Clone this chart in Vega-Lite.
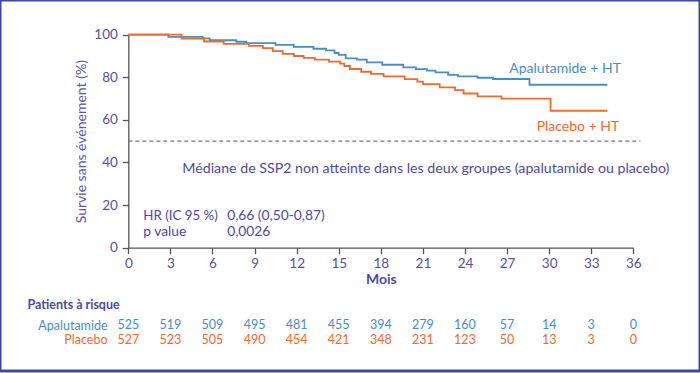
{
  "$schema": "https://vega.github.io/schema/vega-lite/v6.json",
  "width": 700,
  "height": 371,
  "autosize": {"type": "none"},
  "padding": {"left": 0, "top": 0, "right": 0, "bottom": 2},
  "background": "white",
  "config": {
    "view": {"stroke": "#3d4a9c", "strokeWidth": 3},
    "font": "Lato",
    "axis": {"grid": false}
  },
  "datasets": {
    "km": [
      {"group": "Apalutamide", "t": 0, "s": 100},
      {"group": "Apalutamide", "t": 2.85, "s": 99.0},
      {"group": "Apalutamide", "t": 5.3, "s": 98.3},
      {"group": "Apalutamide", "t": 5.8, "s": 97.4},
      {"group": "Apalutamide", "t": 7.7, "s": 96.7},
      {"group": "Apalutamide", "t": 8.4, "s": 96.0},
      {"group": "Apalutamide", "t": 10.5, "s": 95.2},
      {"group": "Apalutamide", "t": 11.8, "s": 94.3},
      {"group": "Apalutamide", "t": 13.2, "s": 93.4},
      {"group": "Apalutamide", "t": 14.1, "s": 92.6},
      {"group": "Apalutamide", "t": 14.7, "s": 91.4},
      {"group": "Apalutamide", "t": 15.0, "s": 90.5},
      {"group": "Apalutamide", "t": 15.5, "s": 88.9},
      {"group": "Apalutamide", "t": 16.3, "s": 88.3},
      {"group": "Apalutamide", "t": 17.0, "s": 87.0},
      {"group": "Apalutamide", "t": 18.1, "s": 85.9},
      {"group": "Apalutamide", "t": 19.6, "s": 84.7},
      {"group": "Apalutamide", "t": 20.5, "s": 83.8},
      {"group": "Apalutamide", "t": 21.3, "s": 83.1},
      {"group": "Apalutamide", "t": 21.9, "s": 82.3},
      {"group": "Apalutamide", "t": 22.8, "s": 81.1},
      {"group": "Apalutamide", "t": 23.5, "s": 80.4},
      {"group": "Apalutamide", "t": 24.9, "s": 79.8},
      {"group": "Apalutamide", "t": 26.0, "s": 79.2},
      {"group": "Apalutamide", "t": 28.6, "s": 76.5},
      {"group": "Apalutamide", "t": 34.15, "s": 76.5},
      {"group": "Placebo", "t": 0, "s": 100},
      {"group": "Placebo", "t": 3.8, "s": 98.2},
      {"group": "Placebo", "t": 5.4, "s": 96.8},
      {"group": "Placebo", "t": 6.8, "s": 95.7},
      {"group": "Placebo", "t": 8.6, "s": 94.8},
      {"group": "Placebo", "t": 9.6, "s": 93.7},
      {"group": "Placebo", "t": 10.3, "s": 92.3},
      {"group": "Placebo", "t": 11.0, "s": 91.0},
      {"group": "Placebo", "t": 11.8, "s": 90.0},
      {"group": "Placebo", "t": 12.5, "s": 89.1},
      {"group": "Placebo", "t": 13.3, "s": 88.3},
      {"group": "Placebo", "t": 14.3, "s": 87.4},
      {"group": "Placebo", "t": 15.1, "s": 86.4},
      {"group": "Placebo", "t": 15.4, "s": 85.3},
      {"group": "Placebo", "t": 15.8, "s": 83.9},
      {"group": "Placebo", "t": 16.6, "s": 82.6},
      {"group": "Placebo", "t": 17.3, "s": 81.6},
      {"group": "Placebo", "t": 18.2, "s": 80.4},
      {"group": "Placebo", "t": 19.7, "s": 79.1},
      {"group": "Placebo", "t": 20.6, "s": 78.0},
      {"group": "Placebo", "t": 21.0, "s": 76.8},
      {"group": "Placebo", "t": 22.2, "s": 75.3},
      {"group": "Placebo", "t": 23.3, "s": 74.0},
      {"group": "Placebo", "t": 23.9, "s": 72.4},
      {"group": "Placebo", "t": 24.9, "s": 71.0},
      {"group": "Placebo", "t": 26.6, "s": 70.0},
      {"group": "Placebo", "t": 30.1, "s": 64.3},
      {"group": "Placebo", "t": 34.15, "s": 64.3}
    ],
    "risk": [
      {"group": "Apalutamide", "t": 0, "n": 525},
      {"group": "Apalutamide", "t": 3, "n": 519},
      {"group": "Apalutamide", "t": 6, "n": 509},
      {"group": "Apalutamide", "t": 9, "n": 495},
      {"group": "Apalutamide", "t": 12, "n": 481},
      {"group": "Apalutamide", "t": 15, "n": 455},
      {"group": "Apalutamide", "t": 18, "n": 394},
      {"group": "Apalutamide", "t": 21, "n": 279},
      {"group": "Apalutamide", "t": 24, "n": 160},
      {"group": "Apalutamide", "t": 27, "n": 57},
      {"group": "Apalutamide", "t": 30, "n": 14},
      {"group": "Apalutamide", "t": 33, "n": 3},
      {"group": "Apalutamide", "t": 36, "n": 0},
      {"group": "Placebo", "t": 0, "n": 527},
      {"group": "Placebo", "t": 3, "n": 523},
      {"group": "Placebo", "t": 6, "n": 505},
      {"group": "Placebo", "t": 9, "n": 490},
      {"group": "Placebo", "t": 12, "n": 454},
      {"group": "Placebo", "t": 15, "n": 421},
      {"group": "Placebo", "t": 18, "n": 348},
      {"group": "Placebo", "t": 21, "n": 231},
      {"group": "Placebo", "t": 24, "n": 123},
      {"group": "Placebo", "t": 27, "n": 50},
      {"group": "Placebo", "t": 30, "n": 13},
      {"group": "Placebo", "t": 33, "n": 3},
      {"group": "Placebo", "t": 36, "n": 0}
    ]
  },
  "layer": [
    {
      "layer": [
        {
          "data": {"name": "km"},
          "mark": {"type": "line", "interpolate": "step-after", "strokeWidth": 1.8},
          "encoding": {
            "x": {
              "field": "t", "type": "quantitative",
              "scale": {"domain": [0, 36], "range": [128.3, 633.3], "nice": false, "zero": false},
              "axis": {
                "orient": "bottom", "offset": -123.3,
                "values": [0, 3, 6, 9, 12, 15, 18, 21, 24, 27, 30, 33, 36],
                "tickSize": 6, "tickColor": "#555", "domainColor": "#555", "domainWidth": 1.3, "tickWidth": 1.3,
                "labelPadding": 3, "labelFontSize": 13.5, "labelColor": "#5450a0",
                "labelFlush": false, "labelOverlap": false,
                "title": "Mois", "titleFontSize": 14, "titleFontWeight": "bold", "titleColor": "#4e4a9c", "titlePadding": 2
              }
            },
            "y": {
              "field": "s", "type": "quantitative",
              "scale": {"domain": [0, 100], "range": [247.7, 34.7], "nice": false},
              "axis": {
                "orient": "left", "offset": -128.3,
                "values": [0, 20, 40, 60, 80, 100],
                "tickSize": 6, "tickColor": "#555", "domainColor": "#555", "domainWidth": 1.3, "tickWidth": 1.3,
                "labelPadding": 5, "labelFontSize": 13.5, "labelColor": "#5450a0",
                "title": "Survie sans événement (%)", "titleFontSize": 14, "titleFontWeight": "normal", "titleColor": "#5a56a6", "titlePadding": 5
              }
            },
            "color": {
              "field": "group", "type": "nominal",
              "scale": {"domain": ["Apalutamide", "Placebo"], "range": ["#4a8dc2", "#f26a2b"]},
              "legend": null
            }
          }
        },
        {
          "data": {"values": [{}]},
          "mark": {"type": "rule", "strokeDash": [4, 3], "color": "#777", "strokeWidth": 1.2},
          "encoding": {"x": {"datum": 0}, "x2": {"datum": 36.5}, "y": {"datum": 50}}
        },
        {
          "data": {"values": [{}]},
          "mark": {"type": "text", "align": "left", "baseline": "middle", "fontSize": 14.2, "color": "#4e4a9c", "text": "Médiane de SSP2 non atteinte dans les deux groupes (apalutamide ou placebo)"},
          "encoding": {"x": {"datum": 3.85}, "y": {"datum": 37}}
        },
        {
          "data": {"values": [{}]},
          "mark": {"type": "text", "align": "left", "baseline": "middle", "fontSize": 13.3, "color": "#4e4a9c", "text": "HR (IC 95 %)"},
          "encoding": {"x": {"datum": 1.07}, "y": {"datum": 15}}
        },
        {
          "data": {"values": [{}]},
          "mark": {"type": "text", "align": "left", "baseline": "middle", "fontSize": 13.8, "color": "#4e4a9c", "text": "0,66 (0,50-0,87)"},
          "encoding": {"x": {"datum": 7.05}, "y": {"datum": 15}}
        },
        {
          "data": {"values": [{}]},
          "mark": {"type": "text", "align": "left", "baseline": "middle", "fontSize": 13.8, "color": "#4e4a9c", "text": "p value"},
          "encoding": {"x": {"datum": 1.07}, "y": {"datum": 7.6}}
        },
        {
          "data": {"values": [{}]},
          "mark": {"type": "text", "align": "left", "baseline": "middle", "fontSize": 13.8, "color": "#4e4a9c", "text": "0,0026"},
          "encoding": {"x": {"datum": 7.05}, "y": {"datum": 7.6}}
        },
        {
          "data": {"values": [{}]},
          "mark": {"type": "text", "align": "left", "baseline": "middle", "fontSize": 14, "color": "#4a8dc2", "text": "Apalutamide + HT"},
          "encoding": {"x": {"datum": 27.16}, "y": {"datum": 83.9}}
        },
        {
          "data": {"values": [{}]},
          "mark": {"type": "text", "align": "left", "baseline": "middle", "fontSize": 14, "color": "#f26a2b", "text": "Placebo + HT"},
          "encoding": {"x": {"datum": 29.11}, "y": {"datum": 56.8}}
        }
      ]
    },
    {
      "data": {"name": "risk"},
      "mark": {"type": "text", "fontSize": 12.5, "align": "center", "baseline": "middle"},
      "encoding": {
        "x": {"field": "t", "type": "quantitative", "axis": {"title": "Mois"}},
        "y": {
          "field": "group", "type": "nominal",
          "scale": {"type": "point", "domain": ["Apalutamide", "Placebo"], "range": [325, 339.8], "padding": 0},
          "axis": {
            "orient": "left", "offset": -109, "domain": false, "ticks": false, "labelPadding": 2,
            "labelFontSize": 12.5,
            "labelColor": {"condition": {"test": "datum.value === 'Apalutamide'", "value": "#4a8dc2"}, "value": "#f26a2b"},
            "title": "Patients à risque", "titleAngle": 0, "titleAlign": "left", "titleBaseline": "middle",
            "titleX": -82, "titleY": 304, "titleFontWeight": "bold", "titleFontSize": 12.5, "titleColor": "#4e4a9c"
          }
        },
        "text": {"field": "n", "type": "quantitative"},
        "color": {"field": "group", "type": "nominal", "legend": null}
      }
    }
  ],
  "resolve": {"scale": {"y": "independent"}}
}
